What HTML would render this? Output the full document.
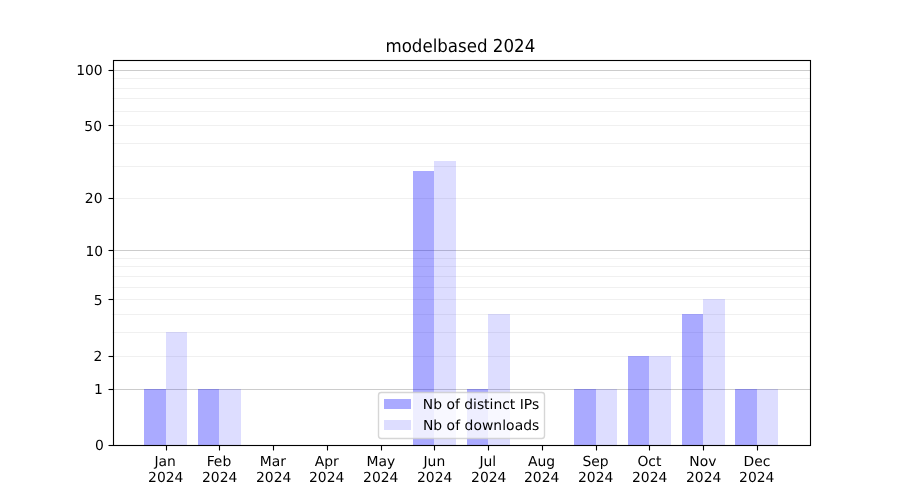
<!DOCTYPE html>
<html lang="en">
<head>
<meta charset="utf-8">
<title>modelbased 2024</title>
<style>
html,body{margin:0;padding:0;background:#fff;}
body{width:900px;height:500px;overflow:hidden;}
svg{display:block;}
text{font-family:"DejaVu Sans","Liberation Sans",sans-serif;fill:#000;text-rendering:geometricPrecision;}
.t{font-size:13.889px;}
.ttl{font-size:16.667px;}
</style>
</head>
<body>
<svg width="900" height="500" viewBox="0 0 900 500">
<rect x="0" y="0" width="900" height="500" fill="#ffffff"/>
<g fill="none" stroke-width="1.111">
<line x1="112.5" x2="810.0" y1="356.5" y2="356.5" stroke="#f0f0f0"/>
<line x1="112.5" x2="810.0" y1="332.5" y2="332.5" stroke="#f0f0f0"/>
<line x1="112.5" x2="810.0" y1="314.5" y2="314.5" stroke="#f0f0f0"/>
<line x1="112.5" x2="810.0" y1="299.5" y2="299.5" stroke="#f0f0f0"/>
<line x1="112.5" x2="810.0" y1="287.5" y2="287.5" stroke="#f0f0f0"/>
<line x1="112.5" x2="810.0" y1="276.5" y2="276.5" stroke="#f0f0f0"/>
<line x1="112.5" x2="810.0" y1="266.5" y2="266.5" stroke="#f0f0f0"/>
<line x1="112.5" x2="810.0" y1="258.5" y2="258.5" stroke="#f0f0f0"/>
<line x1="112.5" x2="810.0" y1="198.5" y2="198.5" stroke="#f0f0f0"/>
<line x1="112.5" x2="810.0" y1="166.5" y2="166.5" stroke="#f0f0f0"/>
<line x1="112.5" x2="810.0" y1="143.5" y2="143.5" stroke="#f0f0f0"/>
<line x1="112.5" x2="810.0" y1="125.5" y2="125.5" stroke="#f0f0f0"/>
<line x1="112.5" x2="810.0" y1="111.5" y2="111.5" stroke="#f0f0f0"/>
<line x1="112.5" x2="810.0" y1="98.5" y2="98.5" stroke="#f0f0f0"/>
<line x1="112.5" x2="810.0" y1="88.5" y2="88.5" stroke="#f0f0f0"/>
<line x1="112.5" x2="810.0" y1="78.5" y2="78.5" stroke="#f0f0f0"/>
<line x1="112.5" x2="810.0" y1="389.5" y2="389.5" stroke="#cccccc"/>
<line x1="112.5" x2="810.0" y1="250.5" y2="250.5" stroke="#cccccc"/>
<line x1="112.5" x2="810.0" y1="70.5" y2="70.5" stroke="#cccccc"/>
</g>
<g shape-rendering="crispEdges">
<rect x="144" y="389" width="22" height="56" fill="#0000ff" fill-opacity="0.3333"/>
<rect x="166" y="332" width="21" height="113" fill="#0000ff" fill-opacity="0.1333"/>
<rect x="198" y="389" width="21" height="56" fill="#0000ff" fill-opacity="0.3333"/>
<rect x="219" y="389" width="22" height="56" fill="#0000ff" fill-opacity="0.1333"/>
<rect x="413" y="171" width="21" height="274" fill="#0000ff" fill-opacity="0.3333"/>
<rect x="434" y="161" width="22" height="284" fill="#0000ff" fill-opacity="0.1333"/>
<rect x="467" y="389" width="21" height="56" fill="#0000ff" fill-opacity="0.3333"/>
<rect x="488" y="314" width="22" height="131" fill="#0000ff" fill-opacity="0.1333"/>
<rect x="574" y="389" width="22" height="56" fill="#0000ff" fill-opacity="0.3333"/>
<rect x="596" y="389" width="21" height="56" fill="#0000ff" fill-opacity="0.1333"/>
<rect x="628" y="356" width="21" height="89" fill="#0000ff" fill-opacity="0.3333"/>
<rect x="649" y="356" width="22" height="89" fill="#0000ff" fill-opacity="0.1333"/>
<rect x="682" y="314" width="21" height="131" fill="#0000ff" fill-opacity="0.3333"/>
<rect x="703" y="299" width="22" height="146" fill="#0000ff" fill-opacity="0.1333"/>
<rect x="735" y="389" width="22" height="56" fill="#0000ff" fill-opacity="0.3333"/>
<rect x="757" y="389" width="21" height="56" fill="#0000ff" fill-opacity="0.1333"/>
</g>
<g stroke="#000" stroke-width="1.111" fill="none">
<line x1="166.5" x2="166.5" y1="445.50" y2="450.50"/>
<line x1="219.5" x2="219.5" y1="445.50" y2="450.50"/>
<line x1="273.5" x2="273.5" y1="445.50" y2="450.50"/>
<line x1="327.5" x2="327.5" y1="445.50" y2="450.50"/>
<line x1="381.5" x2="381.5" y1="445.50" y2="450.50"/>
<line x1="434.5" x2="434.5" y1="445.50" y2="450.50"/>
<line x1="488.5" x2="488.5" y1="445.50" y2="450.50"/>
<line x1="542.5" x2="542.5" y1="445.50" y2="450.50"/>
<line x1="596.5" x2="596.5" y1="445.50" y2="450.50"/>
<line x1="649.5" x2="649.5" y1="445.50" y2="450.50"/>
<line x1="703.5" x2="703.5" y1="445.50" y2="450.50"/>
<line x1="757.5" x2="757.5" y1="445.50" y2="450.50"/>
<line x1="108.50" x2="113.50" y1="445.5" y2="445.5"/>
<line x1="108.50" x2="113.50" y1="389.5" y2="389.5"/>
<line x1="108.50" x2="113.50" y1="356.5" y2="356.5"/>
<line x1="108.50" x2="113.50" y1="299.5" y2="299.5"/>
<line x1="108.50" x2="113.50" y1="250.5" y2="250.5"/>
<line x1="108.50" x2="113.50" y1="198.5" y2="198.5"/>
<line x1="108.50" x2="113.50" y1="125.5" y2="125.5"/>
<line x1="108.50" x2="113.50" y1="70.5" y2="70.5"/>
</g>
<rect x="113.5" y="60.5" width="697.0" height="385.0" fill="none" stroke="#000" stroke-width="1.111"/>
<g class="t" text-anchor="middle">
<text x="165.08" y="466.12">Jan</text><text x="165.74" y="481.65">2024</text>
<text x="218.93" y="466.06">Feb</text><text x="219.70" y="481.68">2024</text>
<text x="272.82" y="466.15">Mar</text><text x="273.71" y="481.65">2024</text>
<text x="326.75" y="466.14">Apr</text><text x="326.71" y="481.66">2024</text>
<text x="380.95" y="466.08">May</text><text x="380.73" y="481.65">2024</text>
<text x="434.36" y="465.96">Jun</text><text x="434.69" y="481.68">2024</text>
<text x="487.80" y="465.77">Jul</text><text x="488.74" y="481.65">2024</text>
<text x="541.47" y="466.02">Aug</text><text x="541.71" y="481.66">2024</text>
<text x="595.56" y="466.10">Sep</text><text x="595.71" y="481.66">2024</text>
<text x="649.40" y="466.08">Oct</text><text x="649.65" y="481.70">2024</text>
<text x="702.90" y="465.96">Nov</text><text x="703.69" y="481.65">2024</text>
<text x="756.98" y="466.15">Dec</text><text x="756.77" y="481.65">2024</text>
</g>
<g class="t" text-anchor="end">
<text x="103.73" y="450.35">0</text>
<text x="102.87" y="393.88">1</text>
<text x="102.43" y="360.70">2</text>
<text x="102.70" y="305.42">5</text>
<text x="103.07" y="256.35">10</text>
<text x="102.47" y="202.69">20</text>
<text x="102.02" y="130.51">50</text>
<text x="102.70" y="75.12">100</text>
</g>
<text class="ttl" text-anchor="middle" transform="translate(460.34 51.58) scale(1 1.075)" x="0" y="0">modelbased 2024</text>
<rect x="378.5" y="392.5" width="166" height="46" rx="2.78" ry="2.78" fill="#ffffff" fill-opacity="0.8" stroke="#cccccc" stroke-opacity="0.8" stroke-width="1.389"/>
<rect x="384" y="399" width="27" height="10" fill="#0000ff" fill-opacity="0.3333" shape-rendering="crispEdges"/>
<rect x="384" y="420" width="27" height="10" fill="#0000ff" fill-opacity="0.1333" shape-rendering="crispEdges"/>
<text class="t" x="422.85" y="408.98">Nb of distinct IPs</text>
<text class="t" letter-spacing="0.05" x="422.89" y="430.21">Nb of downloads</text>
</svg>
</body>
</html>
